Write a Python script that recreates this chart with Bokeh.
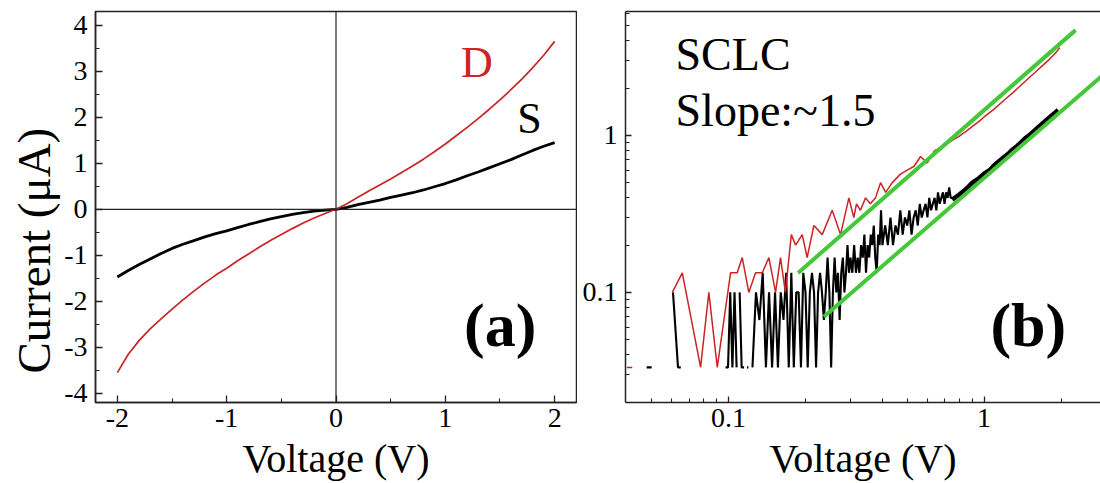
import numpy as np
from bokeh.plotting import figure
from bokeh.layouts import row
from bokeh.models import (Range1d, FixedTicker, Span, Label, LogAxis, Title,
                          ColumnDataSource, CustomJSTickFormatter)
from bokeh.embed import file_html
from bokeh.resources import INLINE

nan = float("nan")
FONT = "Liberation Serif"
RED = "#cc2424"
GREEN = "#44c83a"

# ---------------- Panel (a): linear I-V ----------------
va = [-2.0, -1.9, -1.8, -1.7, -1.6, -1.5, -1.4, -1.3, -1.2, -1.1, -1.0,
      -0.9, -0.8, -0.7, -0.6, -0.5, -0.4, -0.3, -0.2, -0.1, 0.0,
      0.1, 0.2, 0.3, 0.4, 0.5, 0.6, 0.7, 0.8, 0.9, 1.0,
      1.1, 1.2, 1.3, 1.4, 1.5, 1.6, 1.7, 1.8, 1.9, 2.0]
ia_D = [-3.55, -3.15, -2.85, -2.6, -2.38, -2.17, -1.97, -1.78, -1.6, -1.43, -1.28,
        -1.12, -0.97, -0.82, -0.68, -0.55, -0.42, -0.3, -0.19, -0.09, 0.0,
        0.12, 0.26, 0.4, 0.53, 0.66, 0.8, 0.94, 1.09, 1.25, 1.42,
        1.6, 1.78, 1.97, 2.17, 2.38, 2.6, 2.83, 3.08, 3.35, 3.65]
ia_S = [-1.47, -1.33, -1.2, -1.08, -0.96, -0.85, -0.76, -0.68, -0.6, -0.53, -0.47,
        -0.4, -0.33, -0.27, -0.21, -0.16, -0.11, -0.07, -0.04, -0.02, 0.0,
        0.04, 0.1, 0.15, 0.2, 0.26, 0.31, 0.36, 0.42, 0.49, 0.56,
        0.64, 0.73, 0.81, 0.9, 0.99, 1.08, 1.18, 1.28, 1.37, 1.45]

xa_ticks = [-2, -1, 0, 1, 2]
xa_labels = ["-2", "-1", "0", "1", "2"]
xa_minor = [-1.5, -0.5, 0.5, 1.5]
ya_ticks = [-4, -3, -2, -1, 0, 1, 2, 3, 4]
ya_labels = ["-4", "-3", "-2", "-1", "0", "1", "2", "3", "4"]
ya_minor = [-3.5, -2.5, -1.5, -0.5, 0.5, 1.5, 2.5, 3.5]

# ---------------- Panel (b): log-log ----------------
vb_D = [0.040, 0.042, nan,
        0.0602, 0.0659, 0.0777, 0.0837, 0.0903, 0.1018, 0.1081, 0.1131, 0.120,
        0.1275, 0.1355, 0.1438, 0.1527, 0.1597, 0.1668, 0.176, 0.1829, 0.1942,
        0.203, 0.2157, 0.2325, 0.2544, 0.2743, 0.2956, 0.309, 0.3167, 0.328,
        0.3435, 0.3587, 0.3759, 0.3933, 0.412, 0.437, 0.471, 0.50, 0.531,
        0.564, 0.5985, 0.64, 0.675, 0.70, 0.75, 0.80, 0.85, 0.90, 0.95, 1.0,
        1.1, 1.2, 1.3, 1.4, 1.5, 1.6, 1.7, 1.8, 1.9, 1.98]
ib_D = [0.0333, 0.0333, nan,
        0.1, 0.1333, 0.0333, 0.1, 0.0333, 0.1333, 0.1333, 0.1667, 0.1,
        0.1333, 0.1333, 0.1667, 0.1, 0.1667, 0.1, 0.2333, 0.2, 0.2333,
        0.1667, 0.2667, 0.2333, 0.3333, 0.2333, 0.4, 0.3, 0.3667, 0.3333,
        0.4, 0.3667, 0.4, 0.5, 0.4333, 0.5, 0.5667, 0.6, 0.6333,
        0.7333, 0.6667, 0.8, 0.8333, 0.86, 0.93, 0.99, 1.06, 1.14, 1.22, 1.31,
        1.48, 1.68, 1.88, 2.1, 2.33, 2.56, 2.8, 3.05, 3.33, 3.62]

vb_S = [0.0478, 0.0500, nan,
        0.0606, 0.0634, 0.0650, nan,
        0.0973, 0.0995, 0.1015, 0.1035, 0.1055, 0.1075, nan,
        0.1105, 0.1125, 0.1150, nan,
        0.1180, 0.1195, nan,
        0.124, 0.128, 0.132, 0.136, 0.140, 0.144, 0.148, 0.152, 0.156, 0.160,
        0.164, 0.168, 0.172, 0.176, 0.180, 0.184, 0.188, 0.192, 0.196, 0.200,
        0.204, 0.208, 0.212, 0.216, 0.220, 0.224, 0.228, 0.232, 0.236, 0.240,
        0.244, 0.248, 0.252, 0.256, 0.260, 0.264, 0.268, 0.272, 0.276, 0.280,
        0.284, 0.288, 0.292, 0.296, 0.300,
        0.305, 0.31, 0.315, 0.32, 0.325, 0.33, 0.335, 0.34, 0.345, 0.35,
        0.355, 0.36, 0.365, 0.37, 0.375, 0.38, 0.385, 0.39, 0.395, 0.40,
        0.41, 0.42, 0.43, 0.44, 0.45, 0.46, 0.47, 0.48, 0.49, 0.50,
        0.51, 0.52, 0.53, 0.54, 0.55, 0.56, 0.57, 0.58, 0.59, 0.60,
        0.61, 0.62, 0.63, 0.64, 0.65, 0.66, 0.67, 0.68, 0.69, 0.70,
        0.71, 0.72, 0.73, 0.74, 0.75]
ib_S = [0.0333, 0.0333, nan,
        0.1, 0.0333, 0.0333, nan,
        0.0333, 0.0333, 0.1, 0.0333, 0.1, 0.0333, nan,
        0.1, 0.0333, 0.0333, nan,
        0.0333, 0.0333, nan,
        0.0333, 0.1, 0.0667, 0.1333, 0.0333, 0.1, 0.0333, 0.1, 0.0333, 0.1,
        0.0667, 0.1333, 0.0333, 0.1333, 0.0333, 0.1, 0.1, 0.0333, 0.1333, 0.1,
        0.0333, 0.1, 0.1333, 0.1, 0.0333, 0.1, 0.1333, 0.1, 0.0667, 0.1,
        0.1667, 0.1, 0.0333, 0.1, 0.1667, 0.1, 0.1333, 0.0667, 0.1333, 0.1667,
        0.1, 0.1333, 0.2, 0.1333, 0.1667,
        0.1333, 0.2, 0.1333, 0.1667, 0.1333, 0.2, 0.1667, 0.2333, 0.1333, 0.2,
        0.1667, 0.2333, 0.2, 0.2667, 0.1667, 0.1333, 0.2333, 0.2, 0.3333, 0.2,
        0.2667, 0.2, 0.3, 0.2, 0.2667, 0.2333, 0.3333, 0.2333, 0.3, 0.2667,
        0.3333, 0.2333, 0.3, 0.3333, 0.2667, 0.3667, 0.3, 0.3333, 0.3667, 0.3,
        0.4, 0.3333, 0.3667, 0.4, 0.3333, 0.4333, 0.3667, 0.4, 0.4333, 0.3667,
        0.4333, 0.4, 0.4667, 0.4, 0.4]
vb_S_hi = [0.75, 0.8, 0.85, 0.9, 0.95, 1.0, 1.05, 1.1, 1.15, 1.2, 1.25, 1.3,
           1.35, 1.4, 1.45, 1.5, 1.55, 1.6, 1.65, 1.7, 1.75, 1.8, 1.85, 1.9, 1.95]
ib_S_hi = [0.39, 0.42, 0.455, 0.5, 0.53, 0.57, 0.6, 0.65, 0.69, 0.73, 0.77, 0.82,
           0.86, 0.91, 0.96, 1.0, 1.05, 1.1, 1.15, 1.2, 1.25, 1.3, 1.35, 1.4, 1.45]

# green SCLC fit lines (slope ~1.5)
fit1_V = [0.187, 2.28]
fit1_I = [0.133, 4.68]
fit2_V = [0.236, 3.0]
fit2_I = [0.070, 2.52]

xb_ticks = [0.1, 1]
xb_labels = ["0.1", "1"]
xb_minor = [0.05, 0.06, 0.07, 0.08, 0.09, 0.2, 0.3, 0.4, 0.5, 0.6, 0.7, 0.8, 0.9, 2]
yb_ticks = [0.1, 1]
yb_labels = ["0.1", "1"]
yb_minor = [0.03, 0.04, 0.05, 0.06, 0.07, 0.08, 0.09,
            0.2, 0.3, 0.4, 0.5, 0.6, 0.7, 0.8, 0.9, 2, 3, 4, 5, 6]


def fmt(ticks, labels):
    return CustomJSTickFormatter(args=dict(t=ticks, l=labels), code="""
        for (let i = 0; i < t.length; i++) {
            if (Math.abs(t[i] - tick) < 1e-9 * Math.max(1, Math.abs(tick))) return l[i];
        }
        return '';
    """)


def style_axis(ax, major_in, minor_in):
    ax.major_tick_in = major_in
    ax.major_tick_out = 0
    ax.minor_tick_in = minor_in
    ax.minor_tick_out = 0
    ax.axis_line_width = 1.5
    ax.axis_line_color = "#222222"
    ax.major_tick_line_color = "#222222"
    ax.minor_tick_line_color = "#222222"
    ax.major_tick_line_width = 1.3
    ax.minor_tick_line_width = 1.1
    ax.major_label_text_font = FONT
    ax.major_label_text_font_size = "28px"
    ax.major_label_text_color = "black"
    ax.axis_label_text_font = FONT
    ax.axis_label_text_font_style = "normal"
    ax.axis_label_text_color = "black"


# ---------- figure a ----------
p1 = figure(width=577, height=483, x_range=Range1d(-2.2, 2.2), y_range=Range1d(-4.2, 4.3),
            output_backend="svg", toolbar_location=None,
            min_border_left=95, min_border_right=1, min_border_top=11, min_border_bottom=81)
p1.grid.visible = False
p1.outline_line_color = "#222222"
p1.outline_line_width = 1.5
p1.background_fill_color = "white"
p1.border_fill_color = "white"

for ax in (p1.xaxis[0], p1.yaxis[0]):
    style_axis(ax, 7, 4)
p1.xaxis.ticker = FixedTicker(ticks=xa_ticks, minor_ticks=xa_minor)
p1.xaxis.formatter = fmt(xa_ticks, xa_labels)
p1.yaxis.ticker = FixedTicker(ticks=ya_ticks, minor_ticks=ya_minor)
p1.yaxis.formatter = fmt(ya_ticks, ya_labels)
p1.xaxis.axis_label = "Voltage (V)"
p1.xaxis.axis_label_text_font_size = "40px"
p1.xaxis.major_label_standoff = 6
p1.xaxis.axis_label_standoff = 6
p1.yaxis.major_label_standoff = 8

# y-axis title: sits lower than the frame centre, so use a left-side Title
p1.add_layout(Title(text="Current (μA)", text_font=FONT, text_font_size="47px",
                    text_font_style="normal", text_color="black",
                    align="left", offset=29, standoff=4), "left")

p1.add_layout(Span(location=0, dimension="width", line_color="#222222", line_width=1.2))
p1.add_layout(Span(location=0, dimension="height", line_color="#222222", line_width=1.2))

src_a = ColumnDataSource(dict(v=va, d=ia_D, s=ia_S))
p1.line("v", "s", source=src_a, line_color="black", line_width=2.8)
p1.line("v", "d", source=src_a, line_color=RED, line_width=1.7)

p1.add_layout(Label(x=1.144, y=3.2, text="D", text_color=RED, text_font=FONT,
                    text_font_size="44px", text_baseline="alphabetic", text_align="left"))
p1.add_layout(Label(x=1.657, y=1.98, text="S", text_color="black", text_font=FONT,
                    text_font_size="44px", text_baseline="alphabetic", text_align="left"))
p1.add_layout(Label(x=1.172, y=-2.52, text="(a)", text_color="black", text_font=FONT,
                    text_font_size="62px", text_font_style="bold",
                    text_baseline="alphabetic", text_align="left"))

# ---------- figure b ----------
p2 = figure(width=523, height=483, x_axis_type="log", y_axis_type="log",
            x_range=Range1d(0.0395, 2.854), y_range=Range1d(0.0199, 6.15),
            output_backend="svg", toolbar_location=None,
            min_border_left=48, min_border_right=0, min_border_top=11, min_border_bottom=81)
p2.grid.visible = False
p2.outline_line_color = None
p2.background_fill_color = "white"
p2.border_fill_color = "white"
for ax in (p2.xaxis[0], p2.yaxis[0]):
    style_axis(ax, 6, 4)
p2.xaxis.ticker = FixedTicker(ticks=xb_ticks, minor_ticks=xb_minor)
p2.xaxis.formatter = fmt(xb_ticks, xb_labels)
p2.yaxis.ticker = FixedTicker(ticks=yb_ticks, minor_ticks=yb_minor)
p2.yaxis.formatter = fmt(yb_ticks, yb_labels)
p2.xaxis.axis_label = "Voltage (V)"
p2.xaxis.axis_label_text_font_size = "40px"
p2.xaxis.major_label_standoff = 6
p2.xaxis.axis_label_standoff = 6
p2.yaxis.major_label_standoff = 8

top = LogAxis(ticker=FixedTicker(ticks=[]), axis_line_width=1.5, axis_line_color="#222222",
              major_tick_in=0, major_tick_out=0, minor_tick_in=0, minor_tick_out=0,
              major_label_standoff=0)
p2.add_layout(top, "above")

src_bD = ColumnDataSource(dict(v=np.array(vb_D, dtype=float), i=np.array(ib_D, dtype=float)))
src_bS = ColumnDataSource(dict(v=np.array(vb_S, dtype=float), i=np.array(ib_S, dtype=float)))
src_bSh = ColumnDataSource(dict(v=vb_S_hi, i=ib_S_hi))
p2.line("v", "i", source=src_bS, line_color="black", line_width=2.1)
p2.line("v", "i", source=src_bSh, line_color="black", line_width=4.5)
p2.line("v", "i", source=src_bD, line_color=RED, line_width=1.5)
p2.line(fit1_V, fit1_I, line_color=GREEN, line_width=4)
p2.line(fit2_V, fit2_I, line_color=GREEN, line_width=4)

p2.add_layout(Label(x=0.062, y=3.25, text="SCLC", text_color="black", text_font=FONT,
                    text_font_size="46px", text_baseline="alphabetic", text_align="left"))
p2.add_layout(Label(x=0.062, y=1.45, text="Slope:~1.5", text_color="black", text_font=FONT,
                    text_font_size="46px", text_baseline="alphabetic", text_align="left"))
p2.add_layout(Label(x=1.059, y=0.0622, text="(b)", text_color="black", text_font=FONT,
                    text_font_size="62px", text_font_style="bold",
                    text_baseline="alphabetic", text_align="left"))

layout = row(p1, p2)
open("out.html", "w").write(file_html(layout, INLINE))
